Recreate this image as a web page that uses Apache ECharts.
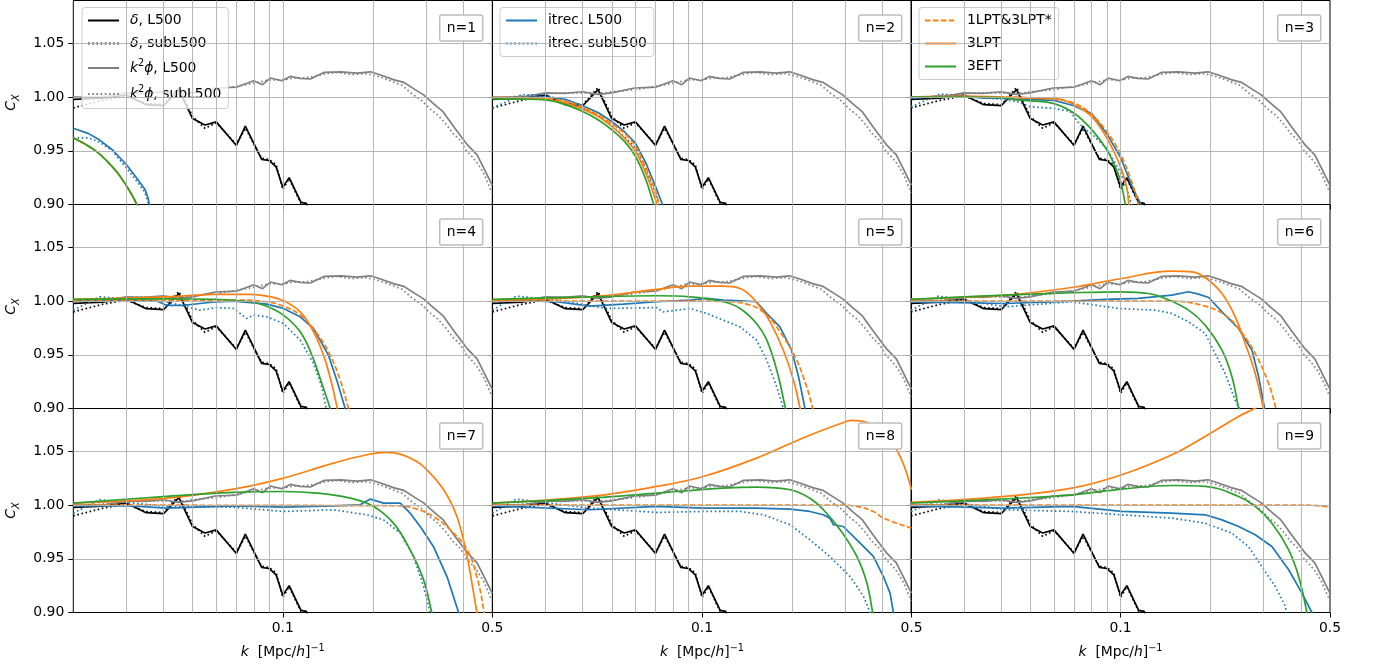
<!DOCTYPE html>
<html>
<head>
<meta charset="utf-8">
<script src="https://cdn.jsdelivr.net/npm/echarts@6/dist/echarts.min.js"></script>
<style>
html,body{margin:0;padding:0;background:#fff;}
#chart{width:1375px;height:668px;}
</style>
</head>
<body>
<div id="chart"></div>
<script>
// ---------------- axis / tick settings ----------------
const K_MIN = 0.02, K_MAX = 0.5;
const xTickLabels = [0.1, 0.5];
const xGridK = [0.03, 0.04, 0.05, 0.06, 0.07, 0.08, 0.09, 0.1, 0.2, 0.3, 0.4];
const yTicks = [0.90, 0.95, 1.00, 1.05];
const yGrid = [0.95, 1.00, 1.05];
const panelLabels = ['n=1','n=2','n=3','n=4','n=5','n=6','n=7','n=8','n=9'];

// ---------------- shared measurements (same in every panel) ----------------
const deltaL500 = [[0.020,0.998],[0.025,0.999],[0.030,1.002],[0.035,0.993],[0.040,0.992],[0.045,1.007],[0.050,0.980],[0.055,0.974],[0.060,0.977],[0.070,0.955],[0.075,0.973],[0.085,0.942],[0.090,0.941],[0.095,0.935],[0.100,0.916],[0.105,0.925],[0.115,0.902],[0.120,0.901],[0.125,0.885]];
const deltaSubL500 = [[0.020,0.990],[0.025,0.997],[0.030,1.001],[0.035,0.994],[0.040,0.993],[0.045,1.009],[0.050,0.982],[0.055,0.971],[0.060,0.976],[0.070,0.956],[0.075,0.971],[0.085,0.943],[0.090,0.942],[0.095,0.937],[0.100,0.914],[0.105,0.924],[0.115,0.901],[0.120,0.900],[0.125,0.884]];
const phiL500 = [[0.020,1.000],[0.0255,1.0003],[0.030,1.004],[0.0347,1.0035],[0.040,1.005],[0.0449,1.0026],[0.050,1.004],[0.0595,1.0085],[0.0703,1.0094],[0.080,1.0153],[0.0856,1.0116],[0.0908,1.0178],[0.0994,1.0153],[0.1058,1.0193],[0.114,1.0175],[0.1237,1.0169],[0.137,1.0230],[0.156,1.0236],[0.177,1.0224],[0.196,1.0236],[0.212,1.0206],[0.234,1.0163],[0.253,1.0138],[0.274,1.0077],[0.295,1.0021],[0.318,0.9939],[0.343,0.9862],[0.372,0.9724],[0.413,0.9555],[0.445,0.9463],[0.468,0.9340],[0.492,0.9218],[0.500,0.9180]];
const phiSubL500 = [[0.020,0.999],[0.025,1.001],[0.030,1.003],[0.035,1.004],[0.040,1.004],[0.045,1.003],[0.050,1.005],[0.060,1.007],[0.070,1.010],[0.080,1.013],[0.090,1.016],[0.100,1.016],[0.110,1.018],[0.120,1.018],[0.135,1.021],[0.150,1.023],[0.170,1.021],[0.190,1.022],[0.210,1.019],[0.230,1.015],[0.250,1.011],[0.270,1.003],[0.290,0.997],[0.310,0.989],[0.330,0.983],[0.350,0.975],[0.370,0.966],[0.390,0.960],[0.410,0.950],[0.430,0.944],[0.450,0.937],[0.470,0.928],[0.490,0.916],[0.500,0.911]];

// ---------------- per-panel curves (index 0..8 -> n=1..9) ----------------
const itrecL500 = [
 [[0.02,0.971],[0.0225,0.966],[0.0245,0.960],[0.027,0.951],[0.0301,0.937],[0.0325,0.925],[0.0347,0.914],[0.0355,0.906],[0.0362,0.895]],
 [[0.02,0.9988],[0.025,1.0],[0.03,1.0],[0.035,0.998],[0.04,0.9919],[0.045,0.9857],[0.05,0.9773],[0.055,0.968],[0.06,0.9571],[0.065,0.9385],[0.07,0.9168],[0.0738,0.9],[0.075,0.893]],
 [[0.02,0.999],[0.025,1.001],[0.03,1.001],[0.035,0.999],[0.04,0.999],[0.045,0.998],[0.05,0.998],[0.06,0.997],[0.07,0.992],[0.075,0.988],[0.08,0.985],[0.09,0.966],[0.1,0.944],[0.11,0.915],[0.117,0.9],[0.12,0.893]],
 [[0.02,1.001],[0.0245,1.001],[0.0317,1.001],[0.0379,1.0003],[0.041,0.996],[0.0466,0.996],[0.0529,0.9978],[0.0602,0.9994],[0.0684,1.0],[0.0799,0.9984],[0.0884,0.9972],[0.1005,0.9932],[0.1143,0.9854],[0.1266,0.9745],[0.142,0.9497],[0.1514,0.9264],[0.1615,0.9],[0.165,0.892]],
 [[0.02,0.9994],[0.024,1.001],[0.0327,0.9994],[0.0423,0.9953],[0.0546,0.9972],[0.0706,0.9994],[0.0912,1.001],[0.1036,1.0025],[0.1178,1.001],[0.134,1.0003],[0.152,0.9994],[0.1645,0.9885],[0.182,0.976],[0.199,0.9543],[0.21,0.9295],[0.2206,0.9],[0.224,0.892]],
 [[0.02,0.9994],[0.0412,0.9978],[0.0688,1.0],[0.0889,1.0016],[0.1148,1.0025],[0.1484,1.0056],[0.1687,1.0087],[0.182,1.0065],[0.197,1.0034],[0.218,0.990],[0.2478,0.9745],[0.2746,0.9543],[0.289,0.9295],[0.3025,0.9],[0.306,0.892]],
 [[0.02,0.9994],[0.0302,0.9994],[0.041,0.9972],[0.0684,0.9994],[0.1005,0.9981],[0.1476,0.9994],[0.181,1.0003],[0.196,1.0056],[0.2168,1.0019],[0.2466,1.0019],[0.266,0.9925],[0.2874,0.9801],[0.318,0.9615],[0.353,0.9335],[0.386,0.9],[0.392,0.893]],
 [[0.02,0.9994],[0.0423,0.9957],[0.0706,0.9988],[0.101,0.9972],[0.152,0.9972],[0.197,0.9963],[0.229,0.9941],[0.254,0.991],[0.267,0.9879],[0.2746,0.9817],[0.296,0.9801],[0.3285,0.9677],[0.373,0.9522],[0.403,0.9335],[0.424,0.918],[0.435,0.9],[0.44,0.893]],
 [[0.02,0.9994],[0.0412,0.9972],[0.0688,0.9988],[0.101,0.9941],[0.1484,0.9925],[0.1917,0.991],[0.218,0.9863],[0.2478,0.9801],[0.2815,0.9724],[0.32,0.9615],[0.364,0.9398],[0.403,0.918],[0.435,0.9],[0.44,0.893]]
];
const itrecSubL500 = [
 [[0.02,0.962],[0.0225,0.962],[0.0245,0.958],[0.027,0.950],[0.0301,0.934],[0.0325,0.922],[0.0347,0.911],[0.0358,0.899],[0.0362,0.893]],
 [[0.02,0.990],[0.022,0.995],[0.025,1.0022],[0.03,1.0022],[0.035,0.996],[0.04,0.9898],[0.045,0.9835],[0.05,0.9733],[0.055,0.9634],[0.06,0.9525],[0.065,0.9323],[0.07,0.9106],[0.0725,0.897]],
 [[0.02,0.991],[0.025,1.003],[0.03,1.001],[0.04,0.998],[0.045,0.996],[0.05,0.991],[0.06,0.9895],[0.068,0.9866],[0.072,0.977],[0.076,0.970],[0.08,0.966],[0.09,0.952],[0.1,0.93],[0.105,0.914],[0.109,0.9],[0.111,0.893]],
 [[0.02,0.9916],[0.0245,1.004],[0.0317,1.0016],[0.041,0.9994],[0.0529,0.9916],[0.0602,0.994],[0.0684,0.9932],[0.0758,0.9839],[0.0799,0.987],[0.0884,0.9854],[0.1005,0.9792],[0.1143,0.9637],[0.1266,0.9419],[0.135,0.920],[0.1396,0.9],[0.141,0.893]],
 [[0.02,0.9916],[0.024,1.0047],[0.0327,1.001],[0.048,0.9932],[0.0706,0.994],[0.0743,0.990],[0.0912,0.9932],[0.1036,0.9885],[0.1178,0.9823],[0.134,0.976],[0.152,0.9637],[0.1645,0.945],[0.1776,0.920],[0.1868,0.9],[0.19,0.893]],
 [[0.02,0.9916],[0.0247,1.0047],[0.0412,0.9947],[0.0688,0.9994],[0.0985,0.9932],[0.1305,0.9916],[0.1484,0.9885],[0.1687,0.9807],[0.1917,0.9699],[0.207,0.9512],[0.2235,0.9326],[0.2414,0.9078],[0.2496,0.9],[0.253,0.893]],
 [[0.02,0.9925],[0.0245,1.005],[0.041,0.9988],[0.0684,0.9981],[0.1005,0.9941],[0.1476,0.9957],[0.1907,0.991],[0.2168,0.9863],[0.2466,0.9739],[0.273,0.9522],[0.295,0.9242],[0.31,0.9],[0.314,0.893]],
 [[0.02,0.9925],[0.024,1.0056],[0.0423,0.9972],[0.0706,0.9932],[0.101,0.9941],[0.134,0.9941],[0.1603,0.991],[0.197,0.9817],[0.229,0.9677],[0.267,0.9522],[0.312,0.9335],[0.346,0.9149],[0.364,0.9],[0.368,0.893]],
 [[0.02,0.9941],[0.0247,1.005],[0.0412,0.9957],[0.0688,0.9941],[0.101,0.991],[0.1484,0.9879],[0.1917,0.9832],[0.2354,0.9739],[0.267,0.9615],[0.296,0.9429],[0.3285,0.9242],[0.355,0.9056],[0.358,0.9],[0.362,0.893]]
];
const lpt1and3star = [
 [[0.02,0.962],[0.022,0.956],[0.024,0.949],[0.026,0.940],[0.028,0.930],[0.030,0.918],[0.0315,0.908],[0.0327,0.899],[0.0332,0.894]],
 [[0.02,0.9997],[0.025,0.9997],[0.03,0.9991],[0.035,0.996],[0.04,0.9907],[0.045,0.9835],[0.05,0.9752],[0.055,0.9665],[0.06,0.954],[0.065,0.934],[0.07,0.9121],[0.0725,0.895]],
 [[0.02,1.0],[0.03,1.0],[0.04,1.0],[0.05,0.9995],[0.06,0.998],[0.07,0.9944],[0.08,0.984],[0.09,0.968],[0.1,0.947],[0.11,0.918],[0.1146,0.9],[0.116,0.893]],
 [[0.02,1.001],[0.041,1.001],[0.0684,1.001],[0.0884,0.9994],[0.1005,0.9953],[0.1143,0.987],[0.13,0.970],[0.1439,0.9497],[0.1554,0.9264],[0.1657,0.9],[0.168,0.893]],
 [[0.02,1.0],[0.0912,1.0],[0.1178,0.9997],[0.1446,0.9963],[0.1645,0.987],[0.1868,0.9668],[0.207,0.945],[0.2235,0.920],[0.234,0.9],[0.237,0.893]],
 [[0.02,1.0],[0.148,1.0],[0.1917,0.9953],[0.2235,0.987],[0.2478,0.9745],[0.2815,0.9512],[0.312,0.9233],[0.33,0.9],[0.334,0.893]],
 [[0.02,1.0],[0.2466,0.9994],[0.28,0.9963],[0.318,0.9894],[0.362,0.977],[0.412,0.9584],[0.444,0.9335],[0.4677,0.9025],[0.47,0.893]],
 [[0.02,1.0],[0.289,1.0],[0.3285,0.9988],[0.373,0.9941],[0.403,0.9879],[0.5,0.9786]],
 [[0.02,1.0],[0.42,1.0],[0.5,0.9981]]
];
const lpt3 = [
 [[0.02,0.962],[0.022,0.956],[0.024,0.949],[0.026,0.940],[0.028,0.930],[0.030,0.918],[0.0315,0.908],[0.0327,0.899],[0.0332,0.894]],
 [[0.02,0.999],[0.025,0.9988],[0.03,0.998],[0.035,0.9944],[0.04,0.9888],[0.045,0.982],[0.05,0.9727],[0.055,0.962],[0.06,0.9494],[0.065,0.929],[0.07,0.9043],[0.0715,0.895]],
 [[0.02,1.0],[0.03,1.001],[0.04,1.0],[0.05,0.999],[0.06,0.9988],[0.07,0.993],[0.08,0.982],[0.09,0.962],[0.1,0.935],[0.105,0.915],[0.1067,0.9],[0.108,0.893]],
 [[0.02,1.0016],[0.041,1.004],[0.0602,1.0062],[0.0778,1.0062],[0.0884,1.0047],[0.1005,1.0003],[0.1143,0.990],[0.1266,0.9714],[0.1367,0.9497],[0.1456,0.9233],[0.152,0.90],[0.154,0.893]],
 [[0.02,1.001],[0.0423,1.004],[0.0706,1.0109],[0.0912,1.014],[0.1178,1.014],[0.134,1.0118],[0.1446,1.0056],[0.156,0.9947],[0.1687,0.9807],[0.1868,0.9543],[0.202,0.9264],[0.2125,0.9],[0.215,0.893]],
 [[0.02,1.0019],[0.0412,1.0056],[0.0688,1.0127],[0.101,1.0211],[0.1484,1.028],[0.173,1.0273],[0.1917,1.022],[0.218,1.0071],[0.2414,0.9854],[0.2606,0.9606],[0.2815,0.9326],[0.3,0.9],[0.304,0.893]],
 [[0.02,1.0019],[0.041,1.0065],[0.0684,1.0149],[0.1005,1.0252],[0.1476,1.0391],[0.1907,1.0469],[0.2224,1.0491],[0.2466,1.0475],[0.28,1.0407],[0.3025,1.0329],[0.344,1.0143],[0.381,0.9894],[0.412,0.952],[0.4276,0.9273],[0.444,0.9],[0.448,0.893]],
 [[0.02,1.0019],[0.0423,1.0081],[0.0706,1.0174],[0.101,1.0267],[0.152,1.0438],[0.2235,1.064],[0.289,1.0758],[0.316,1.0789],[0.355,1.077],[0.403,1.0686],[0.458,1.0453],[0.5,1.0143]],
 [[0.02,1.0025],[0.0412,1.0081],[0.0688,1.0158],[0.101,1.0283],[0.1484,1.0469],[0.1917,1.064],[0.2478,1.0826],[0.2815,1.0904],[0.304,1.097]]
];
const eft3 = [
 [[0.02,0.962],[0.022,0.956],[0.024,0.949],[0.026,0.940],[0.028,0.930],[0.030,0.918],[0.0315,0.908],[0.0327,0.899],[0.0332,0.894]],
 [[0.02,0.9984],[0.025,0.9981],[0.03,0.9975],[0.035,0.993],[0.04,0.9866],[0.045,0.979],[0.05,0.9696],[0.055,0.959],[0.06,0.9447],[0.065,0.923],[0.069,0.9],[0.0705,0.893]],
 [[0.02,1.0],[0.03,1.0],[0.04,0.9995],[0.045,0.9975],[0.05,0.9966],[0.06,0.994],[0.07,0.985],[0.08,0.97],[0.09,0.951],[0.095,0.938],[0.1,0.922],[0.1038,0.9],[0.105,0.893]],
 [[0.02,1.0016],[0.041,1.0022],[0.0602,1.0016],[0.0778,0.9994],[0.0884,0.9953],[0.1005,0.987],[0.1143,0.9714],[0.125,0.9497],[0.135,0.9233],[0.1439,0.9],[0.146,0.893]],
 [[0.02,1.0016],[0.0423,1.004],[0.0706,1.005],[0.0912,1.004],[0.1178,0.9994],[0.134,0.9932],[0.152,0.9792],[0.1645,0.9637],[0.1776,0.9357],[0.19,0.9],[0.193,0.893]],
 [[0.02,1.0016],[0.0412,1.0056],[0.0688,1.0078],[0.101,1.0087],[0.124,1.0071],[0.141,1.0025],[0.1687,0.9916],[0.1917,0.9776],[0.218,0.9543],[0.2354,0.9295],[0.2478,0.9],[0.251,0.893]],
 [[0.02,1.0019],[0.041,1.0081],[0.0684,1.0118],[0.1005,1.0127],[0.13,1.0112],[0.1678,1.0065],[0.2008,0.9988],[0.234,0.9832],[0.266,0.9584],[0.295,0.9304],[0.314,0.9],[0.318,0.893]],
 [[0.02,1.0019],[0.0423,1.0065],[0.0706,1.0112],[0.1178,1.0158],[0.152,1.0168],[0.197,1.0143],[0.229,1.0065],[0.254,0.9957],[0.289,0.977],[0.3285,0.9522],[0.355,0.9273],[0.371,0.9],[0.375,0.893]],
 [[0.02,1.0019],[0.0412,1.0059],[0.0688,1.0096],[0.101,1.0149],[0.1484,1.0183],[0.1917,1.0174],[0.2478,1.0081],[0.2815,0.9988],[0.32,0.9832],[0.364,0.9584],[0.393,0.9335],[0.419,0.9],[0.424,0.893]]
];

// ---------------- styling ----------------
const C_BLACK = '#000000', C_GRAY = '#808080', C_BLUE = '#1f77b4', C_ORANGE = '#ff7f0e', C_GREEN = '#2ca02c';
const DOT = [1.6, 2.6], DASH = [5.5, 2.4];
const FONT = 'DejaVu Sans';
const FS = 13.9;
const gridLeft = [73.3, 492.5, 911];
const gridTop = [0.5, 204.5, 408.5];
const GW = 419, GH = 204;
const titleRight = [892, 473, 54];

const grids = [], xAxes = [], yAxes = [], series = [], titles = [];

function line(i, name, data, color, type, smooth, z) {
  const s = {
    type: 'line', name: name, data: data, xAxisIndex: i, yAxisIndex: i,
    showSymbol: false, symbol: 'none', clip: true, z: z || 2, silent: true, animation: false,
    smooth: smooth ? 0.4 : false,
    lineStyle: { color: color, width: 1.7, type: type },
    itemStyle: { color: color },
    emphasis: { disabled: true }
  };
  return s;
}

for (let i = 0; i < 9; i++) {
  const row = Math.floor(i / 3), col = i % 3;
  grids.push({ left: gridLeft[col], top: gridTop[row], width: GW, height: GH, show: true,
    borderColor: '#000', borderWidth: 1, backgroundColor: 'transparent', containLabel: false });
  xAxes.push({
    type: 'log', logBase: 10, gridIndex: i, min: K_MIN, max: K_MAX,
    axisLine: { show: false },
    axisTick: { show: true, customValues: xTickLabels, length: 5, inside: false, lineStyle: { color: '#000', width: 1 } },
    axisLabel: { show: row === 2, customValues: xTickLabels, color: '#000', fontSize: FS, fontFamily: FONT, margin: 9,
      formatter: v => String(+Number(v).toPrecision(3)) },
    splitLine: { show: false },
    minorTick: { show: false },
    name: row === 2 ? '{i|k}  [Mpc/{i|h}]{sup|\u22121}' : '',
    nameLocation: 'middle', nameGap: 31,
    nameTextStyle: { color: '#000', fontSize: FS, fontFamily: FONT, lineHeight: 18,
      rich: { i: { fontStyle: 'italic', fontSize: FS, fontFamily: FONT, color: '#000', lineHeight: 18 },
              sup: { fontSize: 9.7, fontFamily: FONT, color: '#000', lineHeight: 10, verticalAlign: 'top' } } }
  });
  yAxes.push({
    type: 'value', gridIndex: i, min: 0.9, max: 1.09, interval: 0.05,
    axisLine: { show: false },
    axisTick: { show: true, customValues: yTicks, length: 5, lineStyle: { color: '#000', width: 1 } },
    axisLabel: { show: col === 0, customValues: yTicks, color: '#000', fontSize: FS, fontFamily: FONT, margin: 9,
      formatter: v => Number(v).toFixed(2) },
    splitLine: { show: false },
    name: col === 0 ? '{c|C}{s|X}' : '',
    nameLocation: 'middle', nameRotate: 90, nameGap: 52,
    nameTextStyle: { rich: {
      c: { fontStyle: 'italic', fontSize: FS, fontFamily: FONT, color: '#000', lineHeight: 20 },
      s: { fontStyle: 'italic', fontSize: 9.7, fontFamily: FONT, color: '#000', lineHeight: 10, verticalAlign: 'bottom' } } }
  });
  // grid lines through the axes' own scales
  series.push({
    type: 'line', data: [], xAxisIndex: i, yAxisIndex: i, z: 1, silent: true, animation: false,
    markLine: { silent: true, animation: false, symbol: ['none', 'none'], label: { show: false },
      emphasis: { disabled: true },
      lineStyle: { color: '#b0b0b0', width: 0.9, type: 'solid' },
      data: xGridK.map(k => ({ xAxis: k })).concat(yGrid.map(v => ({ yAxis: v }))) }
  });
  series.push(line(i, '\u03b4, L500', deltaL500, C_BLACK, 'solid', false));
  series.push(line(i, '\u03b4, subL500', deltaSubL500, C_BLACK, DOT, false));
  series.push(line(i, 'k\u00b2\u03d5, L500', phiL500, C_GRAY, 'solid', false));
  series.push(line(i, 'k\u00b2\u03d5, subL500', phiSubL500, C_GRAY, DOT, false));
  series.push(line(i, 'itrec. L500', itrecL500[i], C_BLUE, 'solid', false));
  series.push(line(i, 'itrec. subL500', itrecSubL500[i], C_BLUE, DOT, false));
  series.push(line(i, '1LPT&3LPT*', lpt1and3star[i], C_ORANGE, DASH, true));
  series.push(line(i, '3LPT', lpt3[i], C_ORANGE, 'solid', true));
  series.push(line(i, '3EFT', eft3[i], C_GREEN, 'solid', true));
  titles.push({ text: panelLabels[i], right: titleRight[col], top: gridTop[row] + 14.5,
    padding: [5, 7, 4, 7], borderColor: '#bdbdbd', borderWidth: 1.5, borderRadius: 2, backgroundColor: '#ffffff',
    textStyle: { fontSize: FS, fontWeight: 'normal', color: '#000', fontFamily: FONT, lineHeight: 17 } });
}

const legendRich = {
  i: { fontStyle: 'italic', fontSize: FS, fontFamily: FONT, color: '#000', lineHeight: 16 },
  k: { fontStyle: 'italic', fontSize: FS, fontFamily: FONT, color: '#000', lineHeight: 19 },
  sup: { fontSize: 9.7, fontFamily: FONT, color: '#000', lineHeight: 9, verticalAlign: 'top' }
};
function legendFmt(name) {
  if (name.indexOf('\u03b4') === 0) return '{i|\u03b4}' + name.slice(1);
  if (name.indexOf('k\u00b2\u03d5') === 0) return '{k|k}{sup|2}{k|\u03d5}' + name.slice(3);
  return name;
}
function mkLegend(names, left) {
  return {
    data: names, left: left, top: 7.5, orient: 'vertical', selectedMode: false,
    itemWidth: 31, itemHeight: 2, itemGap: 7,
    itemStyle: { opacity: 0, color: 'rgba(0,0,0,0)', borderColor: 'rgba(0,0,0,0)', borderWidth: 0 },
    backgroundColor: 'rgba(255,255,255,0.8)', borderColor: '#cccccc', borderWidth: 1, borderRadius: 3,
    padding: [5, 7, 5, 5],
    textStyle: { fontSize: FS, color: '#000', fontFamily: FONT, lineHeight: 16, padding: [0, 0, 0, 6], rich: legendRich },
    formatter: legendFmt
  };
}

const option = {
  animation: false,
  textStyle: { fontFamily: FONT },
  grid: grids, xAxis: xAxes, yAxis: yAxes, series: series, title: titles,
  legend: [
    mkLegend(['\u03b4, L500', '\u03b4, subL500', 'k\u00b2\u03d5, L500', 'k\u00b2\u03d5, subL500'], 82),
    mkLegend(['itrec. L500', 'itrec. subL500'], 500),
    mkLegend(['1LPT&3LPT*', '3LPT', '3EFT'], 919)
  ]
};
const chart = echarts.init(document.getElementById('chart'), null, { renderer: 'canvas' });
chart.setOption(option);
</script>
</body>
</html>
